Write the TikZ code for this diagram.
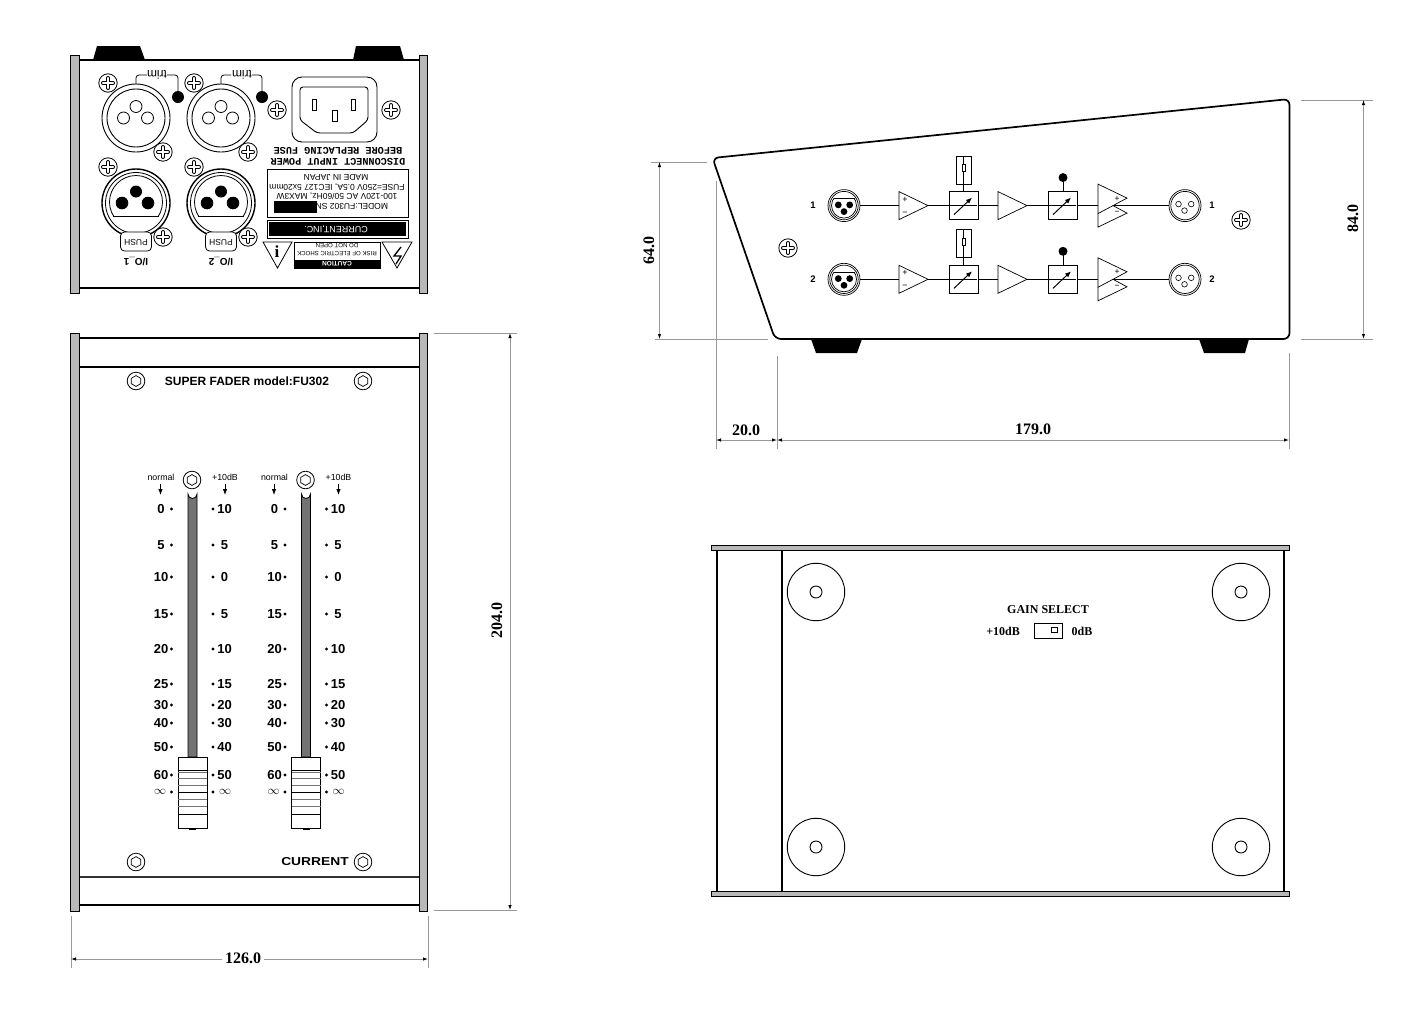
\documentclass[tikz,border=0pt]{standalone}
\usepackage{fontspec}
\setmainfont{Liberation Sans}
\newfontfamily\serifbf{Liberation Serif}
\newfontfamily\monobf{Liberation Mono}
\usetikzlibrary{arrows.meta}
\newcounter{nn}
\newcommand\fz[1]{\fontsize{#1}{#1}\selectfont}
\newcommand\txt[3][]{\stepcounter{nn}\node[inner sep=0pt,outer sep=0pt,#1] (t\thenn) at (#2) {#3};}
\newcommand\scr[1]{\begin{scope}[shift={(#1)}]
 \draw[line width=.8pt,fill=white] (0,0) circle (9.2);
 \draw[line width=4pt,line cap=round] (-5,0)--(5,0) (0,-5)--(0,5);
 \draw[line width=2.4pt,line cap=round,white] (-5,0)--(5,0) (0,-5)--(0,5);
 \end{scope}}
\newcommand\hexs[1]{\begin{scope}[shift={(#1)}]
 \draw[line width=.8pt,fill=white] (0,0) circle (8.8);
 \draw[line width=.7pt] (0,-5.4)--(4.7,-2.7)--(4.7,2.7)--(0,5.4)--(-4.7,2.7)--(-4.7,-2.7)--cycle;
 \end{scope}}
\newcommand\xlrf[1]{\begin{scope}[shift={(#1)}]
 \draw[line width=.9pt] (0,0) circle (34) (0,0) circle (29);
 \draw[line width=.8pt] (0,-11.5) circle (6) (-12.5,0) circle (6) (11.5,0) circle (6);
 \end{scope}}
\newcommand\xlrm[2]{\begin{scope}[shift={(#1)}]
 \draw[line width=1.4pt] (0,0) circle (34);
 \draw[line width=.8pt] (0,0) circle (30.5);
 \begin{scope}\clip (-40,-40) rectangle (40,13); \draw[line width=.8pt] (0,-1) circle (26.5);\end{scope}
 \draw[line width=.8pt] (-22.8,13)--(22.8,13);
 \fill (0,-11.5) circle (6) (-14,0) circle (6.3) (12,0) circle (6.3);
 \draw[line width=.8pt,fill=white,rounded corners=4pt] (-15.5,29) rectangle (15.5,48);
 \txt[rotate=180,font=\fz{8.5}]{0,39}{PUSH}
 \txt[rotate=180,font=\fz{10}\bfseries]{0,59}{#2}
 \end{scope}}
\newcommand\fader[1]{\begin{scope}[shift={(#1,0)}]
 \hexs{192,480}
 \txt[font=\fz{8.8}]{161,477}{normal}
 \txt[font=\fz{8.8}]{225,477}{+10dB}
 \draw[line width=.8pt,-{Latex[length=6pt,width=4.5pt]}] (160.5,484)--(160.5,495);
 \draw[line width=.8pt,-{Latex[length=6pt,width=4.5pt]}] (225,484)--(225,495);
 \draw[line width=.8pt,fill=black!55] (188,757)--(188,494) arc[start angle=180,end angle=0,radius=4.5]--(197,757)--cycle;
 \foreach \yy/\l/\r in {509/0/10,545/5/5,577/10/0,614/15/5,649/20/10,684/25/15,705/30/20,723/40/30,747/50/40,775/60/50}{
  \fill (171.5,\yy) circle (1.7) (213,\yy) circle (1.7);
  \txt[font=\fz{13}\bfseries]{161,\yy}{\l}
  \txt[font=\fz{13}\bfseries]{224.5,\yy}{\r}
 }
 \fill (171.5,792) circle (1.7) (213,792) circle (1.7);
 \txt[font=\fz{12}]{160,792}{$\infty$}
 \txt[font=\fz{12}]{225,792}{$\infty$}
 \draw[line width=.9pt,fill=white] (178,757) rectangle (207,828);
 \draw[black!55,line width=.8pt] (178,772)--(207,772) (178,778)--(207,778) (178,785)--(207,785) (178,799)--(207,799) (178,806)--(207,806);
 \draw[line width=.9pt] (178,770)--(207,770) (178,792)--(207,792) (178,814)--(207,814);
 \fill (189,828) rectangle (196,829.5);
 \end{scope}}
\newcommand\vca[1]{\begin{scope}[shift={(#1,0)}]
 \draw[line width=.7pt,fill=white] (0,-14)rectangle(29,14);
 \draw[line width=1.5pt] (0,14)--(29,14);
 \draw[line width=.7pt] (1,0)--(28,0);
 \draw[line width=1pt,-{Latex[length=6pt,width=5pt]}] (5,9)--(23,-8);
 \end{scope}}
\tikzset{dimline/.style={black!40,line width=.8pt},
 dimtip/.style={{Latex[black,length=5pt,width=3.4pt]}-{Latex[black,length=5pt,width=3.4pt]}},
 outline/.style={line width=1.3pt},
 bar/.style={fill=black!28,draw=black,line width=.9pt},
 sig/.style={line width=.7pt},
 tri/.style={line width=.7pt,fill=white},
 dimtxt/.style={font=\serifbf\fz{16}\bfseries},
 }
\begin{document}
\begin{tikzpicture}[x=1pt,y=-1pt,line join=miter]
\useasboundingbox (0,0) rectangle (1410,1018);
\fill[white] (0,0) rectangle (1410,1018);
% ---------- rear panel
\fill (97,46)--(140,46)--(145,60)--(93,60)--cycle;
\fill (356,46)--(400,46)--(404,60)--(353,60)--cycle;
\draw[outline] (79,60)--(419,60) (79,288)--(419,288);
\draw[bar] (70.5,55.5) rectangle (79,293);
\draw[bar] (419,55.5) rectangle (427.5,293);
\xlrf{136,118}\xlrf{221,118}
\fill (178,97) circle (6) (262,97) circle (6);
\txt[rotate=180,font=\fz{12}]{157,74.5}{trim}
\txt[rotate=180,font=\fz{12}]{242,74.5}{trim}
\draw[line width=.8pt,rounded corners=3pt] (136,84)--(136,75)--(147,75) (167,75)--(178,75)--(178,92);
\draw[line width=.8pt,rounded corners=3pt] (221,84)--(221,75)--(231,75) (252,75)--(262,75)--(262,92);
\xlrm{136,203}{I/O\_1}\xlrm{221,203}{I/O\_2}
\foreach \p in {{108,83},{163,152},{194,83},{248,152},{277,110},{391,110},{108,167},{163,237},{194,167},{248,237}}{\scr{\p}}
\draw[line width=.9pt,rounded corners=10pt] (292,77) rectangle (377,142);
\draw[line width=.9pt,rounded corners=3pt] (300,87)--(368,87)--(368,120)--(353,133)--(317,133)--(300,120)--cycle;
\draw[line width=.8pt] (312,99) rectangle (316,110) (351,99) rectangle (355.5,110) (332,110) rectangle (337.5,121);
\txt[rotate=180,font=\monobf\fz{10.2}\bfseries]{338,151}{BEFORE REPLACING FUSE}
\txt[rotate=180,font=\monobf\fz{10.2}\bfseries]{338,162}{DISCONNECT INPUT POWER}
\draw[line width=.9pt] (267,169) rectangle (408,217);
\txt[rotate=180,font=\fz{8.5}]{336,177}{MADE IN JAPAN}
\txt[rotate=180,font=\fz{8.5}]{337,187}{FUSE=250V 0.5A, IEC127 5x20mm}
\txt[rotate=180,font=\fz{8.5}]{337,196}{100-120V AC 50/60Hz, MAX3W}
\txt[rotate=180,font=\fz{8.5},anchor=west]{388,206}{MODEL:FU302 SN}
\fill (273.5,201) rectangle (317,213);
\draw[line width=.9pt] (267,220) rectangle (408,238);
\fill (269,222) rectangle (406,236);
\txt[rotate=180,font=\fz{9},text=white]{336,229}{CURRENT,INC.}
\draw[line width=.7pt] (294,242) rectangle (380,268);
\fill (294,260) rectangle (380,268);
\txt[rotate=180,font=\fz{6.1}]{337,246}{DO NOT OPEN}
\txt[rotate=180,font=\fz{6.1}]{337,254}{RISK OF ELECTRIC SHOCK}
\txt[rotate=180,font=\fz{6.5}\bfseries,text=white]{337,264}{CAUTION}
\draw[line width=.8pt] (263,242)--(292,242)--(277.5,268)--cycle (382,242)--(412,242)--(397,268)--cycle;
\txt[font=\serifbf\fz{17}\bfseries]{277,252}{i}
\draw[line width=1.3pt] (401,247)--(394,256)--(401,256)--(396,264);
% ---------- front panel
\draw[outline] (79,338)--(419,338) (79,367)--(419,367) (79,905)--(419,905);
\draw[line width=1.5pt,black!80] (79,877)--(419,877);
\draw[bar] (70.5,333.5) rectangle (79,911);
\draw[bar] (419,333.5) rectangle (427.5,911);
\hexs{136,381}\hexs{363,381}\hexs{136,862}\hexs{363,862}
\txt[font=\fz{12}\bfseries]{247,381}{SUPER FADER model:FU302}
\txt[font=\fz{11.5}\bfseries,xscale=1.2]{315,862}{CURRENT}
\fader{0}\fader{113.5}
% ---------- side view
\fill (811,339)--(862,339)--(857,353)--(816,353)--cycle;
\fill (1199,339)--(1249,339)--(1245,353)--(1204,353)--cycle;
\draw[line width=1.7pt,rounded corners=6pt] (712.5,158)--(1289.5,99)--(1289.5,339)--(775,339)--cycle;
\coordinate (d64a) at (659.5,162); \coordinate (d64b) at (659.5,339);
\draw[dimline] (651,162)--(707,162) (655,339)--(768,339);
\draw[dimline,dimtip] (d64a)--(d64b);
\txt[rotate=90,dimtxt]{649,250}{64.0}
\coordinate (d84a) at (1363.5,100); \coordinate (d84b) at (1363.5,339);
\draw[dimline] (1301,100)--(1373,100) (1301,339)--(1373,339);
\draw[dimline,dimtip] (d84a)--(d84b);
\txt[rotate=90,dimtxt]{1353,218}{84.0}
\coordinate (d20a) at (716,440); \coordinate (d20b) at (777,440); \coordinate (d179) at (1289,440);
\draw[dimline] (716,181)--(716,449) (777,356)--(777,449) (1289,353)--(1289,449);
\draw[dimline,dimtip] (d20a)--(d20b);
\draw[dimline,dimtip] (d20b)--(d179);
\txt[dimtxt]{746,430}{20.0}
\txt[dimtxt]{1033,429}{179.0}
\scr{1241,220}\scr{788,248}
\foreach \rr/\dy in {1/0,2/73.7}{
\begin{scope}[shift={(0,205.6+\dy)}]
 \txt[font=\fz{9.5}\bfseries]{813,0}{\rr}
 \txt[font=\fz{9.5}\bfseries]{1212,0}{\rr}
 \coordinate (a) at (860,0); \coordinate (b) at (899,0); \coordinate (c) at (928,0);
 \coordinate (d) at (949,0); \coordinate (e) at (978,0); \coordinate (f) at (998,0);
 \coordinate (g) at (1027,0); \coordinate (h) at (1048,0); \coordinate (i) at (1077,0);
 \coordinate (j) at (1098,0); \coordinate (k) at (1113,0); \coordinate (l) at (1169,0);
 \draw[sig] (a)--(b) (c)--(d) (e)--(f) (g)--(h) (i)--(j) (k)--(l);
 \draw[line width=.7pt] (844,0) circle (16) (844,0) circle (14.2);
 \begin{scope}\clip (830,-7) rectangle (858,20);\draw[line width=.7pt] (844,0) circle (12.5);\end{scope}
 \draw[line width=.7pt] (833.5,-7)--(854.5,-7);
 \fill (838.3,-.7) circle (3.4) (849.7,-.7) circle (3.4) (844,6) circle (3.4);
 \draw[tri] (b|-0,-14)--(c)--(b|-0,14)--cycle;
 \txt[font=\fz{9}]{905,-6}{+}
 \txt[font=\fz{9}]{905,8}{−}
 \vca{949}
 \draw[line width=.7pt] (963.7,-14)--(963.7,-21.5);
 \draw[line width=.7pt] (956,-49.5) rectangle (971,-21.5);
 \draw[line width=.6pt] (963.7,-49.5)--(963.7,-21.5);
 \draw[line width=.6pt,fill=white] (962,-41.5) rectangle (965.4,-34.5);
 \draw[tri] (f|-0,-14)--(g)--(f|-0,14)--cycle;
 \vca{1048}
 \draw[line width=.7pt] (1063,-14)--(1063,-28);
 \fill (1063,-28) circle (4.5);
 \draw[tri] (1098,8)--(1127,-7.5)--(1098,-21.5)--cycle;
 \draw[line width=.7pt] (1113,0)--(1127,7.5)--(1098,21.5)--(1098,8);
 \txt[font=\fz{8.5}]{1117,-7}{+}
 \txt[font=\fz{8.5}]{1117,7.5}{−}
 \draw[line width=.7pt,fill=white] (1185,0) circle (16);
 \draw[line width=.7pt] (1185,0) circle (14.2);
 \draw[line width=.6pt] (1178.5,-1.5) circle (2.8) (1191.2,-1.5) circle (2.8) (1184.5,5) circle (2.8);
\end{scope}}
% ---------- bottom view
\draw[line width=1.1pt] (717,550)--(717,891) (782,550)--(782,891) (1284,550)--(1284,891);
\draw[bar] (711.5,545) rectangle (1289.5,550);
\draw[bar] (711.5,891) rectangle (1289.5,896);
\foreach \p in {{816,592},{1241,592},{816,847},{1241,847}}{
 \begin{scope}[shift={(\p)}]\draw[line width=.9pt] (0,0) circle (28.7) (0,0) circle (6);\end{scope}}
\txt[font=\serifbf\fz{12}\bfseries]{1048,610}{GAIN SELECT}
\txt[font=\serifbf\fz{12}\bfseries]{1003,631}{+10dB}
\txt[font=\serifbf\fz{12}\bfseries]{1082,631}{0dB}
\draw[line width=.9pt] (1034.5,623) rectangle (1062,638);
\draw[line width=1pt] (1051.5,627) rectangle (1057.5,632.5);
% ---------- front dims
\coordinate (d126a) at (71,959); \coordinate (d126b) at (428,959);
\draw[dimline] (71,916)--(71,968) (428,916)--(428,968);
\draw[dimline,dimtip] (d126a)--(d126b);
\txt[dimtxt,fill=white,inner xsep=3pt]{243,958}{126.0}
\coordinate (d204a) at (510,333); \coordinate (d204b) at (510,910);
\draw[dimline] (434,333)--(517,333) (434,910)--(517,910);
\draw[dimline,dimtip] (d204a)--(d204b);
\txt[rotate=90,dimtxt]{497,620}{204.0}
\end{tikzpicture}
\end{document}
